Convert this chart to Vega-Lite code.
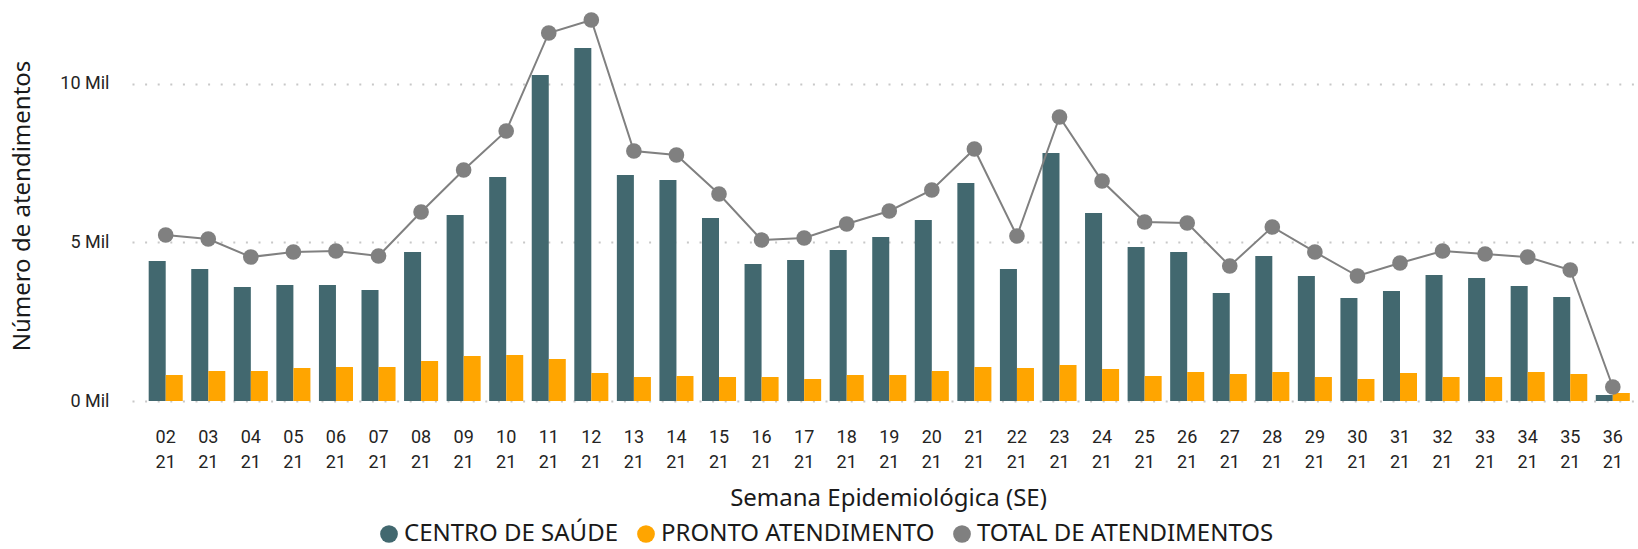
{
  "$schema": "https://vega.github.io/schema/vega-lite/v6.json",
  "width": 1502,
  "height": 391,
  "autosize": {"type": "none"},
  "padding": {"left": 132, "top": 10, "right": 4, "bottom": 148},
  "background": "white",
  "config": {"view": {"stroke": null}},
  "data": {
    "values": [
      {"semana": "02 21", "CENTRO DE SAÚDE": 4412, "PRONTO ATENDIMENTO": 819, "total": 5231},
      {"semana": "03 21", "CENTRO DE SAÚDE": 4160, "PRONTO ATENDIMENTO": 945, "total": 5105},
      {"semana": "04 21", "CENTRO DE SAÚDE": 3593, "PRONTO ATENDIMENTO": 945, "total": 4538},
      {"semana": "05 21", "CENTRO DE SAÚDE": 3656, "PRONTO ATENDIMENTO": 1040, "total": 4696},
      {"semana": "06 21", "CENTRO DE SAÚDE": 3656, "PRONTO ATENDIMENTO": 1071, "total": 4727},
      {"semana": "07 21", "CENTRO DE SAÚDE": 3498, "PRONTO ATENDIMENTO": 1071, "total": 4569},
      {"semana": "08 21", "CENTRO DE SAÚDE": 4696, "PRONTO ATENDIMENTO": 1261, "total": 5957},
      {"semana": "09 21", "CENTRO DE SAÚDE": 5862, "PRONTO ATENDIMENTO": 1418, "total": 7280},
      {"semana": "10 21", "CENTRO DE SAÚDE": 7060, "PRONTO ATENDIMENTO": 1450, "total": 8510},
      {"semana": "11 21", "CENTRO DE SAÚDE": 10274, "PRONTO ATENDIMENTO": 1324, "total": 11598},
      {"semana": "12 21", "CENTRO DE SAÚDE": 11125, "PRONTO ATENDIMENTO": 882, "total": 12007},
      {"semana": "13 21", "CENTRO DE SAÚDE": 7123, "PRONTO ATENDIMENTO": 756, "total": 7879},
      {"semana": "14 21", "CENTRO DE SAÚDE": 6965, "PRONTO ATENDIMENTO": 788, "total": 7753},
      {"semana": "15 21", "CENTRO DE SAÚDE": 5767, "PRONTO ATENDIMENTO": 756, "total": 6523},
      {"semana": "16 21", "CENTRO DE SAÚDE": 4318, "PRONTO ATENDIMENTO": 756, "total": 5074},
      {"semana": "17 21", "CENTRO DE SAÚDE": 4444, "PRONTO ATENDIMENTO": 693, "total": 5137},
      {"semana": "18 21", "CENTRO DE SAÚDE": 4759, "PRONTO ATENDIMENTO": 819, "total": 5578},
      {"semana": "19 21", "CENTRO DE SAÚDE": 5169, "PRONTO ATENDIMENTO": 819, "total": 5988},
      {"semana": "20 21", "CENTRO DE SAÚDE": 5704, "PRONTO ATENDIMENTO": 945, "total": 6649},
      {"semana": "21 21", "CENTRO DE SAÚDE": 6870, "PRONTO ATENDIMENTO": 1071, "total": 7941},
      {"semana": "22 21", "CENTRO DE SAÚDE": 4160, "PRONTO ATENDIMENTO": 1040, "total": 5200},
      {"semana": "23 21", "CENTRO DE SAÚDE": 7816, "PRONTO ATENDIMENTO": 1135, "total": 8951},
      {"semana": "24 21", "CENTRO DE SAÚDE": 5925, "PRONTO ATENDIMENTO": 1008, "total": 6933},
      {"semana": "25 21", "CENTRO DE SAÚDE": 4853, "PRONTO ATENDIMENTO": 788, "total": 5641},
      {"semana": "26 21", "CENTRO DE SAÚDE": 4696, "PRONTO ATENDIMENTO": 914, "total": 5610},
      {"semana": "27 21", "CENTRO DE SAÚDE": 3404, "PRONTO ATENDIMENTO": 851, "total": 4255},
      {"semana": "28 21", "CENTRO DE SAÚDE": 4570, "PRONTO ATENDIMENTO": 914, "total": 5484},
      {"semana": "29 21", "CENTRO DE SAÚDE": 3940, "PRONTO ATENDIMENTO": 756, "total": 4696},
      {"semana": "30 21", "CENTRO DE SAÚDE": 3246, "PRONTO ATENDIMENTO": 693, "total": 3939},
      {"semana": "31 21", "CENTRO DE SAÚDE": 3467, "PRONTO ATENDIMENTO": 882, "total": 4349},
      {"semana": "32 21", "CENTRO DE SAÚDE": 3971, "PRONTO ATENDIMENTO": 756, "total": 4727},
      {"semana": "33 21", "CENTRO DE SAÚDE": 3876, "PRONTO ATENDIMENTO": 756, "total": 4632},
      {"semana": "34 21", "CENTRO DE SAÚDE": 3624, "PRONTO ATENDIMENTO": 914, "total": 4538},
      {"semana": "35 21", "CENTRO DE SAÚDE": 3278, "PRONTO ATENDIMENTO": 851, "total": 4129},
      {"semana": "36 21", "CENTRO DE SAÚDE": 189, "PRONTO ATENDIMENTO": 252, "total": 441}
    ]
  },
  "encoding": {
    "x": {
      "field": "semana",
      "type": "nominal",
      "scale": {"paddingInner": 0.2, "paddingOuter": 0.245, "align": 0.8},
      "axis": {
        "title": "Semana Epidemiológica (SE)",
        "labelExpr": "split(datum.label, ' ')",
        "labelAngle": 0,
        "labelLineHeight": 25,
        "labelBaseline": "top",
        "labelPadding": 27,
        "labelFont": "Roboto",
        "labelFontSize": 18,
        "labelColor": "#252423",
        "domain": false,
        "ticks": false,
        "titleFont": "Noto Sans",
        "titleFontSize": 24,
        "titleFontWeight": "normal",
        "titleColor": "#1a1a1a",
        "titleX": 756,
        "titleY": 104,
        "titleBaseline": "alphabetic"
      }
    }
  },
  "layer": [
    {
      "transform": [{"fold": ["CENTRO DE SAÚDE", "PRONTO ATENDIMENTO"], "as": ["serie", "valor"]}],
      "mark": {"type": "bar"},
      "encoding": {
        "xOffset": {
          "field": "serie",
          "type": "nominal",
          "sort": ["CENTRO DE SAÚDE", "PRONTO ATENDIMENTO"],
          "scale": {"paddingInner": 0, "paddingOuter": 0}
        },
        "y": {
          "field": "valor",
          "type": "quantitative",
          "title": "Número de atendimentos",
          "scale": {"domain": [0, 12322], "nice": false},
          "axis": {
            "values": [0, 5000, 10000],
            "labelExpr": "(datum.value / 1000) + ' Mil'",
            "grid": true,
            "gridDash": [2, 10.6],
            "gridWidth": 2,
            "gridColor": "#c8c8c8",
            "domain": false,
            "ticks": false,
            "labelPadding": 23,
            "labelFont": "Roboto",
            "labelFontSize": 18,
            "labelColor": "#252423",
            "titleFont": "Noto Sans",
            "titleFontSize": 24,
            "titleFontWeight": "normal",
            "titleColor": "#1a1a1a",
            "titleX": -110,
            "titleY": 195.5,
            "titleBaseline": "middle",
            "titleAlign": "center"
          }
        },
        "color": {
          "field": "serie",
          "type": "nominal",
          "scale": {
            "domain": ["CENTRO DE SAÚDE", "PRONTO ATENDIMENTO", "TOTAL DE ATENDIMENTOS"],
            "range": ["#42686F", "#FFA500", "#808080"]
          },
          "legend": {
            "title": null,
            "orient": "none",
            "direction": "horizontal",
            "legendX": 245,
            "legendY": 512,
            "symbolType": "circle",
            "symbolSize": 314,
            "symbolStrokeWidth": 0,
            "symbolOpacity": 1,
            "labelFont": "Noto Sans",
            "labelFontSize": 24,
            "labelColor": "#1a1a1a",
            "labelOffset": 3,
            "labelLimit": 0,
            "columnPadding": 15
          }
        }
      }
    },
    {
      "mark": {"type": "line", "color": "#808080", "strokeWidth": 2},
      "encoding": {
        "y": {"field": "total", "type": "quantitative", "title": "Número de atendimentos"}
      }
    },
    {
      "mark": {"type": "point", "filled": true, "size": 245, "opacity": 1},
      "encoding": {
        "y": {"field": "total", "type": "quantitative", "title": "Número de atendimentos"},
        "color": {"datum": "TOTAL DE ATENDIMENTOS"}
      }
    }
  ]
}
